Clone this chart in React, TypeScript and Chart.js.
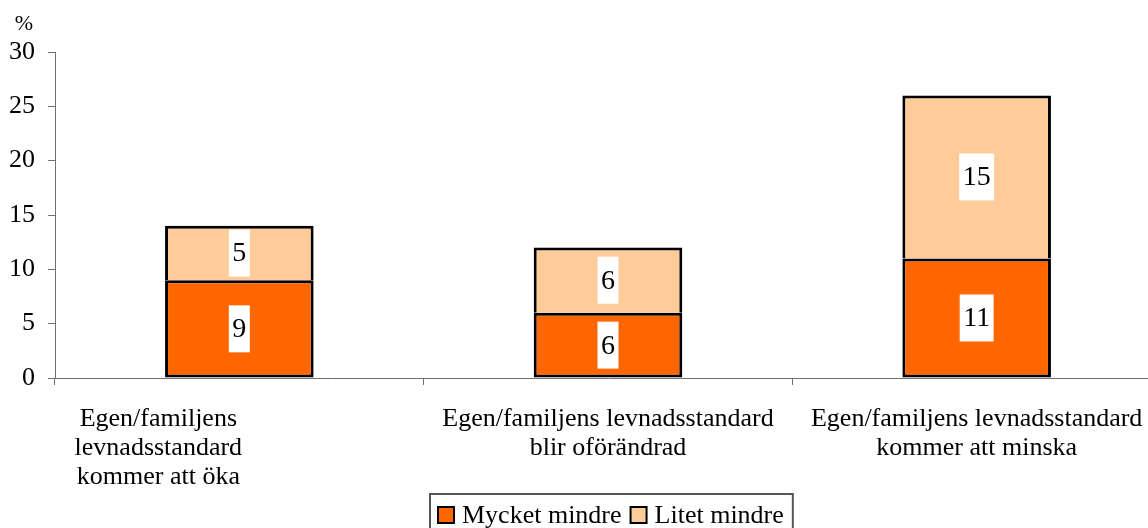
import React, { useEffect, useRef } from "react";
import { Chart, registerables } from "chart.js";

Chart.register(...registerables);

// ---- data ----
const categories: string[][] = [
  ["Egen/familjens", "levnadsstandard", "kommer att öka"],
  ["Egen/familjens levnadsstandard", "blir oförändrad"],
  ["Egen/familjens levnadsstandard", "kommer att minska"],
];
const muchLess: number[] = [9, 6, 11];
const littleLess: number[] = [5, 6, 15];
const seriesNames: string[] = ["Mycket mindre", "Litet mindre"];
const seriesColors: string[] = ["#FF6600", "#FFCC99"];
const yMin = 0;
const yMax = 30;
const yStep = 5;
const yUnit = "%";

const SERIF = "'Times New Roman', 'Liberation Serif', serif";
const labelShift = [-81, 0, 0];

export default function App() {
  const ref = useRef<HTMLCanvasElement>(null);

  useEffect(() => {
    const canvas = ref.current;
    if (!canvas) return;

    const dataLabels = {
      id: "dataLabels",
      afterDatasetsDraw(chart: any) {
        const ctx = chart.ctx;
        ctx.save();
        ctx.font = `28px ${SERIF}`;
        ctx.textAlign = "center";
        ctx.textBaseline = "middle";
        chart.data.datasets.forEach((ds: any, di: number) => {
          const meta = chart.getDatasetMeta(di);
          meta.data.forEach((el: any, i: number) => {
            const v = ds.data[i];
            const p = el.getProps(["x", "y", "base"], true);
            const cy = (p.y + p.base) / 2;
            const text = String(v);
            const w = ctx.measureText(text).width + 7;
            const h = 47;
            ctx.fillStyle = "#fff";
            ctx.fillRect(p.x - w / 2, cy - h / 2, w, h);
            ctx.fillStyle = "#000";
            ctx.fillText(text, p.x, cy + 1);
          });
        });
        ctx.restore();
      },
    };

    const decorations = {
      id: "decorations",
      afterDraw(chart: any) {
        const ctx = chart.ctx;
        const xs = chart.scales.x;
        const area = chart.chartArea;
        ctx.save();
        // category labels
        ctx.fillStyle = "#000";
        ctx.font = `26px ${SERIF}`;
        ctx.textAlign = "center";
        ctx.textBaseline = "alphabetic";
        categories.forEach((lines, i) => {
          const cx = xs.getPixelForValue(i) + labelShift[i];
          lines.forEach((line, j) => {
            ctx.fillText(line, cx, area.bottom + 48 + j * 29);
          });
        });
        // unit label
        ctx.font = `22px ${SERIF}`;
        ctx.fillText(yUnit, 24, area.top - 22);

        // legend
        ctx.font = `26px ${SERIF}`;
        ctx.textAlign = "left";
        const frameLeft = 430;
        const frameTop = 494;
        let x = 438;
        const sq = 16;
        chart.data.datasets.forEach((ds: any) => {
          ctx.fillStyle = ds.backgroundColor;
          ctx.fillRect(x, 507, sq, sq);
          ctx.strokeStyle = "#000";
          ctx.lineWidth = 2;
          ctx.strokeRect(x, 507, sq, sq);
          ctx.fillStyle = "#000";
          const tx = x + sq + 8;
          ctx.fillText(ds.label, tx, 523);
          x = tx + ctx.measureText(ds.label).width + 9;
        });
        const frameRight = x;
        ctx.strokeStyle = "#555";
        ctx.lineWidth = 2;
        ctx.strokeRect(frameLeft, frameTop, frameRight - frameLeft, 60);
        ctx.restore();
      },
    };

    const chart = new Chart(canvas, {
      type: "bar",
      data: {
        labels: categories.map((c) => c.join(" ")),
        datasets: [
          {
            label: seriesNames[0],
            data: muchLess,
            backgroundColor: seriesColors[0],
            borderColor: "#000",
            borderWidth: 3,
            borderSkipped: false,
            barPercentage: 0.403,
            categoryPercentage: 1.0,
          },
          {
            label: seriesNames[1],
            data: littleLess,
            backgroundColor: seriesColors[1],
            borderColor: "#000",
            borderWidth: { top: 3, left: 3, right: 3, bottom: 0 },
            borderSkipped: false,
            barPercentage: 0.403,
            categoryPercentage: 1.0,
          },
        ],
      },
      options: {
        responsive: false,
        maintainAspectRatio: false,
        devicePixelRatio: 1,
        animation: false,
        layout: { padding: { top: 52, left: 0, right: 0, bottom: 0 } },
        plugins: {
          legend: { display: false },
          tooltip: { enabled: false },
        },
        scales: {
          x: {
            stacked: true,
            offset: true,
            grid: {
              display: true,
              drawOnChartArea: false,
              drawTicks: true,
              tickLength: 7,
              color: "#707070",
              offset: true,
            },
            border: { display: true, color: "#707070", width: 1 },
            ticks: { display: false },
            afterFit: (s: any) => {
              s.height = 150;
            },
          },
          y: {
            stacked: true,
            min: yMin,
            max: yMax,
            ticks: {
              stepSize: yStep,
              color: "#000",
              padding: 13,
              font: { size: 26, family: SERIF },
            },
            grid: {
              display: true,
              drawOnChartArea: false,
              drawTicks: true,
              tickLength: 7,
              color: "#707070",
            },
            border: { display: true, color: "#707070", width: 1 },
            afterFit: (s: any) => {
              s.width = 55;
            },
          },
        },
      },
      plugins: [dataLabels, decorations],
    });

    return () => chart.destroy();
  }, []);

  return (
    <div
      style={{
        position: "fixed",
        left: 0,
        top: 0,
        width: 1148,
        height: 528,
        overflow: "hidden",
        background: "#fff",
      }}
    >
      <canvas
        ref={ref}
        width={1161}
        height={528}
        style={{ display: "block", width: 1161, height: 528 }}
      />
    </div>
  );
}
